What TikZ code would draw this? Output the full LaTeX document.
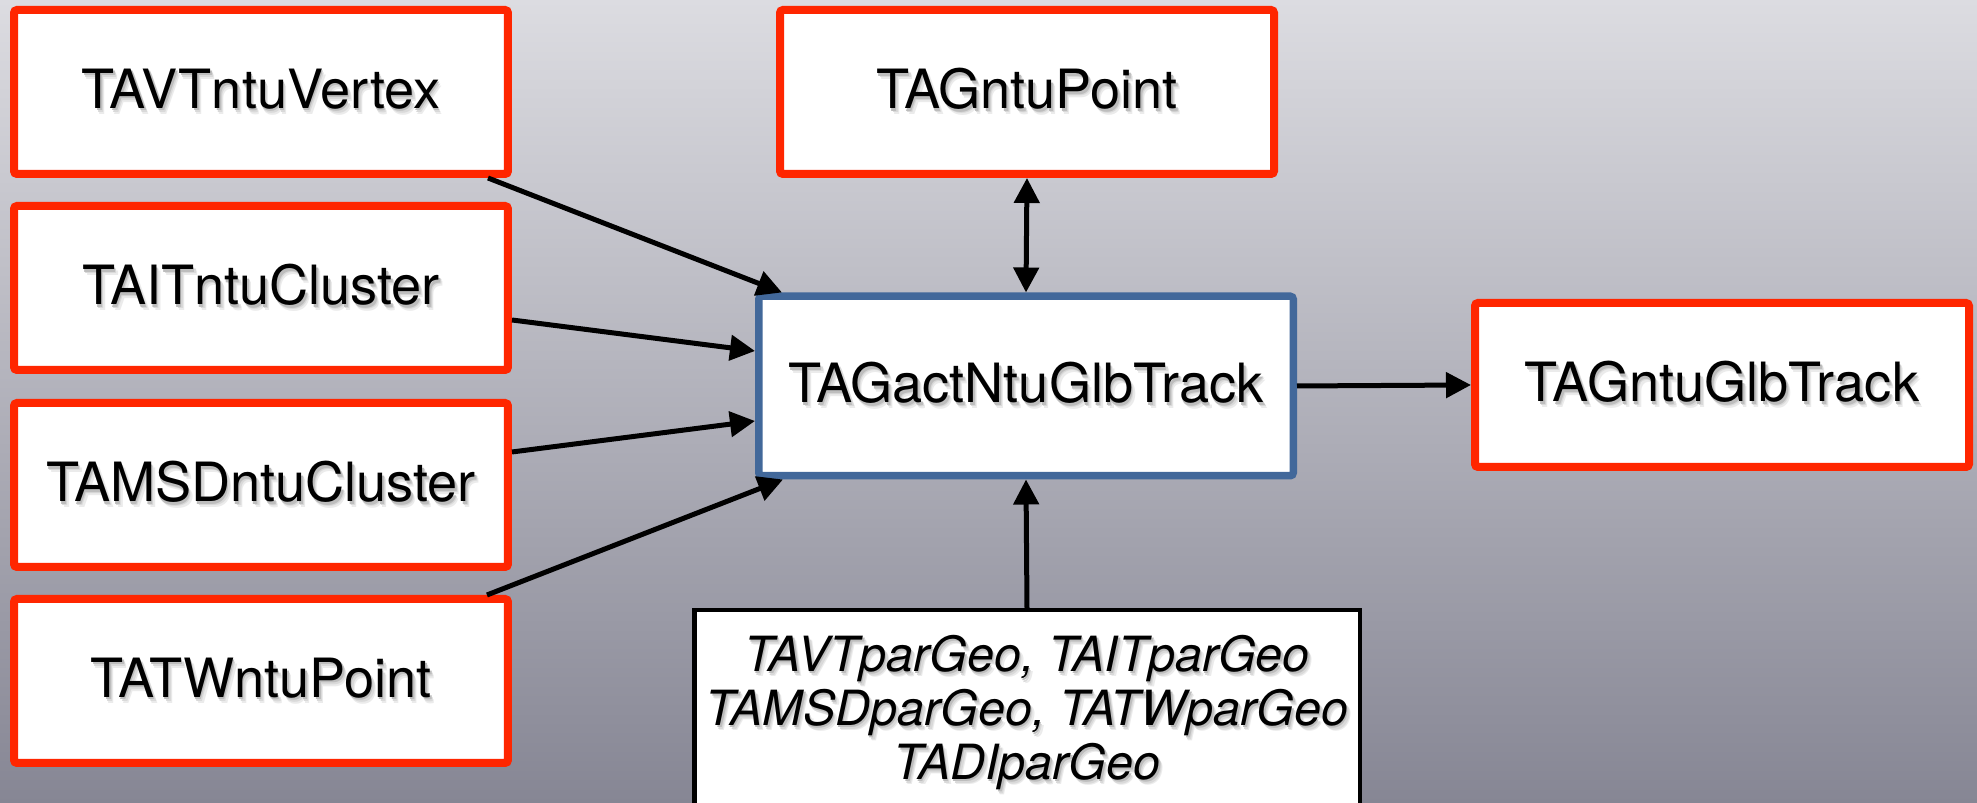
\documentclass[tikz,border=0pt]{standalone}
\usepackage{fontspec}
\setmainfont{TeX Gyre Heros}
\usetikzlibrary{arrows.meta,calc}

\definecolor{bgtop}{RGB}{220,220,225}
\definecolor{bgbot}{RGB}{134,134,148}
\definecolor{boxred}{RGB}{255,38,0}
\definecolor{boxblue}{RGB}{66,104,154}

% label text with a soft drop shadow below it
\newcommand\shtext[1]{\leavevmode
  \rlap{\kern0.40mm\raisebox{-0.55mm}{\textcolor{black!8}{#1}}}%
  \rlap{\kern0.28mm\raisebox{-0.40mm}{\textcolor{black!15}{#1}}}%
  \rlap{\kern0.16mm\raisebox{-0.22mm}{\textcolor{black!26}{#1}}}%
  #1}
\newcommand\labelfont{\fontsize{15.4pt}{18pt}\selectfont}
\newcommand\geofont{\fontsize{13.8pt}{15.3pt}\selectfont\itshape}

\begin{document}
\begin{tikzpicture}[x=0.1mm,y=-0.1mm,
  databox/.style={draw=boxred, line width=0.8mm, fill=white,
    rounded corners=0.3mm, minimum width=49.4mm, minimum height=16.4mm,
    inner sep=0pt, font=\labelfont},
  actbox/.style={draw=boxblue, line width=0.75mm, fill=white,
    rounded corners=0.3mm, minimum width=53.45mm, minimum height=17.95mm,
    inner sep=0pt, font=\labelfont},
  geobox/.style={draw=black, line width=0.45mm, fill=white,
    minimum width=66.55mm, inner xsep=0pt, inner ysep=2.5mm,
    text depth=6mm, align=center, font=\geofont},
  arr/.style={line width=0.5mm, -{Triangle[length=2.5mm,width=2.5mm]}},
  arrboth/.style={line width=0.5mm,
    {Triangle[length=2.5mm,width=2.5mm]}-{Triangle[length=2.5mm,width=2.5mm]}}]
\useasboundingbox (0,0) rectangle (1977,803);
\begin{scope}
\clip (0,0) rectangle (1977,803);
\shade[top color=bgtop, bottom color=bgbot] (0,0) rectangle (1977,803);

% input containers
\node[databox] (vtx) at (261,92)  {\shtext{TAVTntuVertex}};
\node[databox] (itr) at (261,288) {\shtext{TAITntuCluster}};
\node[databox] (msd) at (261,485) {\shtext{TAMSDntuCluster}};
\node[databox] (tw)  at (261,681) {\shtext{TATWntuPoint}};

% action and its outputs
\node[databox] (pt)  at (1027,92)  {\shtext{TAGntuPoint}};
\node[actbox]  (act) at (1026,386) {\shtext{TAGactNtuGlbTrack}};
\node[databox] (glb) at (1722,385) {\shtext{TAGntuGlbTrack}};

% geometry parameters
\node[geobox, anchor=north] (geo) at (1027,608)
  {\shtext{TAVTparGeo, TAITparGeo}\\
   \shtext{TAMSDparGeo, TATWparGeo}\\
   \shtext{TADIparGeo}};

% connections
\draw[arr] ($(vtx.south east)+(-24,0)$) -- ($(act.north west)+(27,0)$);
\draw[arr] ($(itr.east)+(0,32)$) -- ($(act.west)+(0,-35)$);
\draw[arr] ($(msd.east)+(0,-33)$) -- ($(act.west)+(0,35)$);
\draw[arr] ($(tw.north east)+(-25,0)$) -- ($(act.south west)+(28,0)$);
\draw[arrboth] (pt.south) -- (act.north);
\draw[arr] (act.east) -- (glb.west);
\draw[arr] (geo.north) -- (act.south);
\end{scope}
\end{tikzpicture}
\end{document}
